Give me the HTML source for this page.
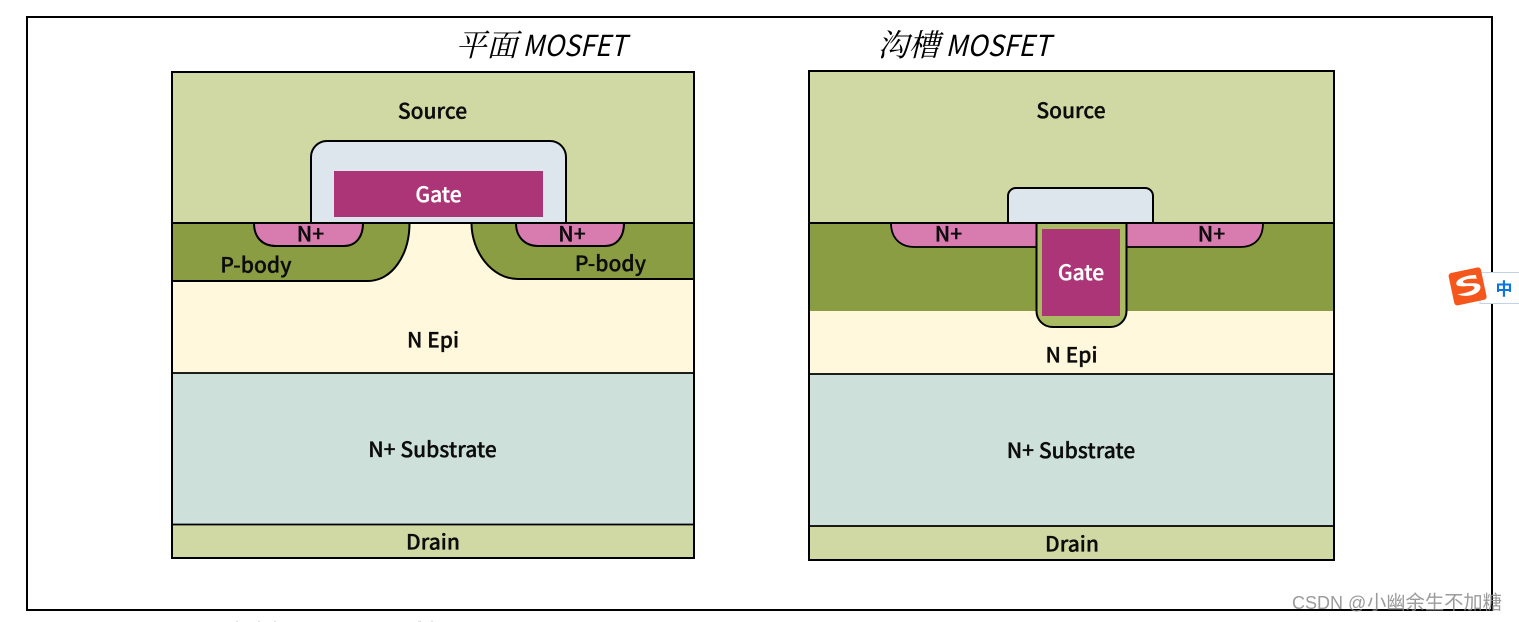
<!DOCTYPE html>
<html><head><meta charset="utf-8"><style>
html,body{margin:0;padding:0;background:#fff;width:1519px;height:622px;overflow:hidden}
svg{display:block}
text{font-family:"Noto Sans CJK SC","Liberation Sans",sans-serif;font-weight:500;font-size:21px;fill:#0c0c0c;stroke:#0c0c0c;stroke-width:.35px;text-anchor:middle}
.t{font-family:"Noto Sans CJK SC",sans-serif;font-style:italic;font-weight:400;font-size:29px;text-anchor:start;fill:#000;stroke:none}
.c{font-family:"Noto Serif CJK SC",serif;font-style:italic;font-weight:400;font-size:31px;text-anchor:start;fill:#000;stroke:none}
.g{fill:#fff;stroke:#fff}
</style></head><body>
<svg width="1519" height="622" viewBox="0 0 1519 622" xmlns="http://www.w3.org/2000/svg">
<rect width="1519" height="622" fill="#fff"/>
<rect x="27" y="17" width="1465" height="593" fill="#fff" stroke="#000" stroke-width="2"/>
<text class="c" x="455.500" y="56">平面</text>
<text class="t" x="522.500" y="56" textLength="104" lengthAdjust="spacingAndGlyphs">MOSFET</text>
<text class="c" x="877.500" y="56">沟槽</text>
<text class="t" x="945.500" y="56" textLength="105" lengthAdjust="spacingAndGlyphs">MOSFET</text>

<!-- Left: planar -->
<rect x="172" y="72" width="522" height="151" fill="#d0d9a3"/>
<rect x="172" y="223" width="522" height="150" fill="#fff8dc"/>
<rect x="172" y="373" width="522" height="151" fill="#cde1da"/>
<rect x="172" y="524" width="522" height="34" fill="#d0d9a3"/>
<path d="M172,223H409.500C409.500,255 392,281 368,281H172Z" fill="#8a9d42" stroke="#000" stroke-width="2"/>
<path d="M694,223H471.500C471.500,252 492,279 518,279H694Z" fill="#8a9d42" stroke="#000" stroke-width="2"/>
<path d="M254,223C254,238 263,246 276,246H344C355,246 363,238 363,223Z" fill="#d87bae" stroke="#000" stroke-width="2"/>
<path d="M516,223C516,238 526,246 538,246H605C616,246 624,238 624,223Z" fill="#d87bae" stroke="#000" stroke-width="2"/>
<path d="M311,223V157A16,16 0 0 1 327,141H550A16,16 0 0 1 566,157V223Z" fill="#dde5ed" stroke="#000" stroke-width="2"/>
<rect x="334" y="171" width="209" height="46" fill="#ab3577"/>
<line x1="172" y1="223" x2="694" y2="223" stroke="#000" stroke-width="2"/>
<line x1="172" y1="373" x2="694" y2="373" stroke="#000" stroke-width="1.8"/>
<line x1="172" y1="524.500" x2="694" y2="524.500" stroke="#000" stroke-width="1.8"/>
<rect x="172" y="72" width="522" height="486" fill="none" stroke="#000" stroke-width="2"/>
<text x="432.500" y="118.500">Source</text>
<text class="g" x="438.500" y="202">Gate</text>
<text x="310.500" y="241.500">N+</text>
<text x="572" y="241.500">N+</text>
<text x="256" y="272.500">P-body</text>
<text x="610.500" y="271">P-body</text>
<text x="433" y="347.500">N Epi</text>
<text x="432.500" y="457">N+ Substrate</text>
<text x="433" y="549.500">Drain</text>

<!-- Right: trench -->
<rect x="809" y="71" width="525" height="152" fill="#d0d9a3"/>
<rect x="809" y="223" width="525" height="88" fill="#8a9d42"/>
<rect x="809" y="311" width="525" height="63" fill="#fff8dc"/>
<rect x="809" y="374" width="525" height="152" fill="#cde1da"/>
<rect x="809" y="526" width="525" height="34" fill="#d0d9a3"/>
<path d="M891,223C891,238 900,247 915,247H1037V223Z" fill="#d87bae" stroke="#000" stroke-width="1.8"/>
<path d="M1263,223C1263,238 1255,247 1240,247H1126V223Z" fill="#d87bae" stroke="#000" stroke-width="1.8"/>
<path d="M1008,223V196A8,8 0 0 1 1016,188H1145A8,8 0 0 1 1153,196V223Z" fill="#dde5ed" stroke="#000" stroke-width="2"/>
<path d="M1036.500,223V311A16,16 0 0 0 1052.500,327H1110.500A16,16 0 0 0 1126.500,311V223Z" fill="#a9ba62" stroke="#000" stroke-width="2"/>
<rect x="1042" y="229" width="78" height="87" fill="#ab3577"/>
<line x1="809" y1="223" x2="1334" y2="223" stroke="#000" stroke-width="2"/>
<line x1="809" y1="374" x2="1334" y2="374" stroke="#000" stroke-width="1.8"/>
<line x1="809" y1="526" x2="1334" y2="526" stroke="#000" stroke-width="1.8"/>
<rect x="809" y="71" width="525" height="489" fill="none" stroke="#000" stroke-width="2"/>
<text x="1071" y="118">Source</text>
<text class="g" x="1081" y="280">Gate</text>
<text x="948.500" y="241.500">N+</text>
<text x="1211.500" y="241.500">N+</text>
<text x="1071.500" y="362.500">N Epi</text>
<text x="1071" y="458">N+ Substrate</text>
<text x="1072" y="551.500">Drain</text>

<!-- IME widget -->
<rect x="1480" y="272.500" width="45" height="31" fill="#fff" stroke="#c3d3ea" stroke-width="1"/>
<g transform="rotate(-12 1467 286)">
<rect x="1451" y="270" width="33" height="33" rx="3" fill="#f4561c"/>
<path d="M1478,277C1468,275 1457,277 1457,282C1457,287 1474,285 1474,289C1474,292 1464,293 1456,292C1463,298 1480,297 1480,289C1480,283 1464,285 1464,281C1464,279 1472,279 1478,281Z" fill="#fff"/>
</g>
<text x="1504" y="295" style="font-size:17px;font-weight:700;fill:#0b74de;stroke:none">中</text>

<!-- Watermark -->
<text x="1292" y="609" style="font-family:'Liberation Sans',sans-serif;font-weight:400;font-size:18px;text-anchor:start;fill:#8a8a8a;fill-opacity:.85;stroke:none">CSDN @</text>
<text x="1367" y="609" style="font-family:'Noto Sans CJK SC',sans-serif;font-weight:400;font-size:19.300px;text-anchor:start;fill:#8a8a8a;fill-opacity:.85;stroke:none">小幽余生不加糖</text>

<!-- Faint cropped marks at bottom edge -->
<g fill="#ddd"><rect x="236" y="621" width="2" height="1"/><rect x="258" y="621" width="2" height="1"/><rect x="274" y="621" width="2" height="1"/><rect x="418" y="621" width="3" height="1"/><rect x="431" y="621" width="2" height="1"/></g>
</svg>
</body></html>
